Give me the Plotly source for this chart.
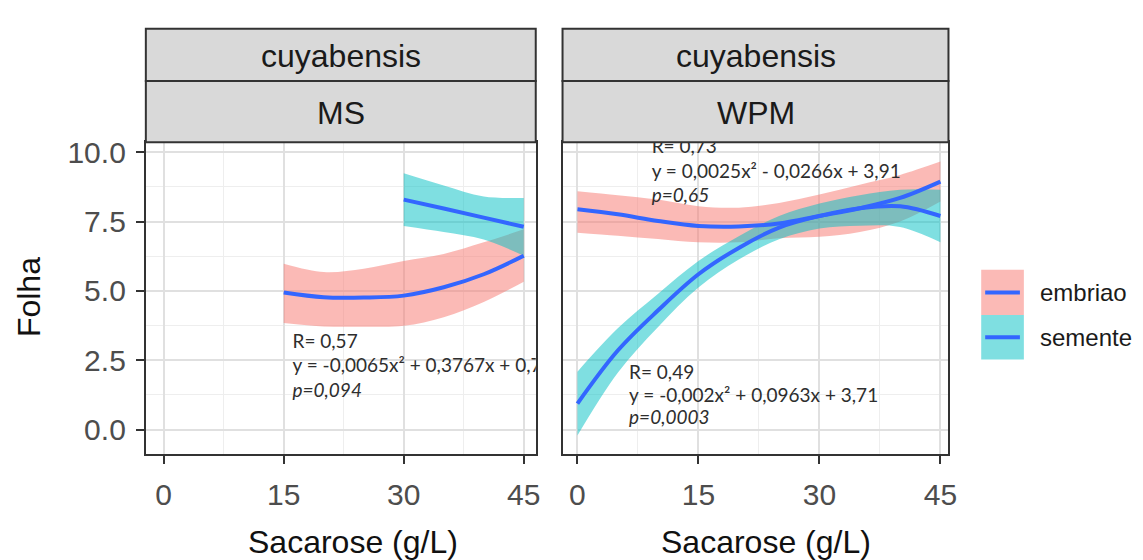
import plotly.graph_objects as go

# ---------------- data ----------------
panels = ["MS", "WPM"]
strip_top = "cuyabensis"
groups = ["embriao", "semente"]

# MS panel
ms_embriao_x = [15, 20, 25, 30, 35, 40, 45]
ms_embriao_y = [4.94, 4.77, 4.76, 4.83, 5.13, 5.60, 6.27]
ms_embriao_lo = [3.84, 3.72, 3.71, 3.74, 4.05, 4.60, 5.33]
ms_embriao_hi = [5.98, 5.68, 5.80, 6.08, 6.33, 6.75, 7.22]

ms_semente_x = [30, 35, 40, 45]
ms_semente_y = [8.29, 7.97, 7.64, 7.31]
ms_semente_lo = [7.34, 7.12, 6.85, 6.27]
ms_semente_hi = [9.24, 8.80, 8.40, 8.35]

# WPM panel
wpm_embriao_x = [0, 5, 10, 15, 20, 25, 30, 35, 40, 45]
wpm_embriao_y = [7.94, 7.76, 7.52, 7.34, 7.32, 7.43, 7.70, 7.98, 8.35, 8.94]
wpm_embriao_lo = [7.10, 6.99, 6.87, 6.75, 6.75, 6.90, 6.95, 7.12, 7.50, 8.22]
wpm_embriao_hi = [8.59, 8.45, 8.29, 8.05, 8.00, 8.17, 8.47, 8.83, 9.18, 9.66]

wpm_semente_x = [0, 5, 10, 15, 20, 25, 30, 35, 40, 45]
wpm_semente_y = [0.94, 2.85, 4.30, 5.60, 6.55, 7.28, 7.70, 7.98, 8.05, 7.70]
wpm_semente_lo = [-0.21, 2.05, 3.70, 5.12, 6.13, 6.86, 7.25, 7.35, 7.30, 6.75]
wpm_semente_hi = [2.09, 3.65, 4.90, 6.08, 6.97, 7.70, 8.15, 8.45, 8.65, 8.65]

x_ticks = [0, 15, 30, 45]
y_ticks = [0.0, 2.5, 5.0, 7.5, 10.0]

ann_ms = ["R= 0,57", "y = -0,0065x² + 0,3767x + 0,77", "<i>p=0,094</i>"]
ann_wpm_top = ["R= 0,73", "y = 0,0025x² - 0,0266x + 3,91", "<i>p=0,65</i>"]
ann_wpm_bot = ["R= 0,49", "y = -0,002x² + 0,0963x + 3,71", "<i>p=0,0003</i>"]

# ---------------- styling ----------------
W, H = 1143, 560
RIB = {"embriao": "rgba(248,118,109,0.5)", "semente": "rgba(0,191,196,0.5)"}
LINE = "#3366FF"
BORDER = "#333333"


def fx(p):
    return p / W


def fy(p):
    return 1 - p / H


fig = go.Figure()


def add_smooth(xs, ys, lo, hi, grp, xa, ya):
    fig.add_trace(go.Scatter(x=xs, y=hi, mode="lines", line=dict(width=0, shape="spline"),
                             xaxis=xa, yaxis=ya, showlegend=False, hoverinfo="skip"))
    fig.add_trace(go.Scatter(x=xs, y=lo, mode="lines", line=dict(width=0, shape="spline"),
                             fill="tonexty", fillcolor=RIB[grp],
                             xaxis=xa, yaxis=ya, showlegend=False, hoverinfo="skip"))


def add_line(xs, ys, grp, xa, ya):
    fig.add_trace(go.Scatter(x=xs, y=ys, mode="lines", line=dict(color=LINE, width=4, shape="spline"),
                             xaxis=xa, yaxis=ya, showlegend=False, name=grp))


add_smooth(ms_embriao_x, ms_embriao_y, ms_embriao_lo, ms_embriao_hi, "embriao", "x", "y")
add_smooth(ms_semente_x, ms_semente_y, ms_semente_lo, ms_semente_hi, "semente", "x", "y")
add_smooth(wpm_embriao_x, wpm_embriao_y, wpm_embriao_lo, wpm_embriao_hi, "embriao", "x2", "y2")
add_smooth(wpm_semente_x, wpm_semente_y, wpm_semente_lo, wpm_semente_hi, "semente", "x2", "y2")
add_line(ms_embriao_x, ms_embriao_y, "embriao", "x", "y")
add_line(ms_semente_x, ms_semente_y, "semente", "x", "y")
add_line(wpm_embriao_x, wpm_embriao_y, "embriao", "x2", "y2")
add_line(wpm_semente_x, wpm_semente_y, "semente", "x2", "y2")

# text blocks (clipped to panel like the reference)
TF = dict(family="Lato, Carlito, sans-serif", size=19, color="#2e2e2e")


def add_text(lines, x0, ys, xa, ya):
    fig.add_trace(go.Scatter(x=[x0] * len(lines), y=ys, mode="text", text=lines,
                             textposition="middle right", textfont=TF, cliponaxis=True,
                             xaxis=xa, yaxis=ya, showlegend=False, hoverinfo="skip"))


add_text(ann_ms, 16.1, [3.10, 2.24, 1.35], "x", "y")
add_text(ann_wpm_top, 9.2, [10.14, 9.25, 8.36], "x2", "y2")
add_text(ann_wpm_bot, 6.4, [1.99, 1.17, 0.36], "x2", "y2")

TICKFONT = dict(family="Liberation Sans, Arial, sans-serif", size=30, color="#4d4d4d")
common = dict(showline=True, mirror=True, linecolor=BORDER, linewidth=2,
              showgrid=True, gridcolor="#e0e0e0", gridwidth=1.5, zeroline=False,
              ticks="outside", ticklen=8, tickwidth=1.5, tickcolor=BORDER,
              tickfont=TICKFONT)

y_top_px, y_bot_px = 137, 453
ydom = [fy(y_bot_px), fy(y_top_px)]
yrange = [-0.89, 10.356]

MINOR_X = dict(dtick=7.5, tick0=0, showgrid=True, gridcolor="#eeeeee", gridwidth=1)
MINOR_Y = dict(dtick=1.25, tick0=0, showgrid=True, gridcolor="#eeeeee", gridwidth=1)

fig.update_layout(
    width=W, height=H, margin=dict(l=0, r=0, t=0, b=0),
    paper_bgcolor="white", plot_bgcolor="white", showlegend=False,
    xaxis=dict(domain=[fx(147), fx(540)], range=[-2.23, 46.5], tickvals=x_ticks,
               minor=MINOR_X, ticklabelstandoff=5, anchor="y", **common),
    xaxis2=dict(domain=[fx(567), fx(956)], range=[-1.85, 46.0], tickvals=x_ticks,
                minor=MINOR_X, ticklabelstandoff=5, anchor="y2", **common),
    yaxis=dict(domain=ydom, range=yrange, tickvals=y_ticks, tickformat=".1f",
               minor=MINOR_Y, ticklabelstandoff=4, anchor="x", **common),
    yaxis2=dict(domain=ydom, range=yrange, tickvals=y_ticks, showticklabels=False,
                minor=MINOR_Y, anchor="x2", **{**common, "ticks": ""}),
)

shapes = []
annotations = []
STRIPFONT = dict(family="Liberation Sans, Arial, sans-serif", size=32, color="#1a1a1a")
for name, (l, r) in zip(panels, [(147, 540), (567, 956)]):
    for (t, b, label) in [(22, 75, strip_top), (75, 137, name)]:
        shapes.append(dict(type="rect", xref="paper", yref="paper", x0=fx(l), x1=fx(r), y0=fy(b), y1=fy(t),
                           fillcolor="#d9d9d9", line=dict(color=BORDER, width=2), layer="above"))
        annotations.append(dict(xref="paper", yref="paper", x=fx((l + r) / 2), y=fy((t + b) / 2 + 1),
                                text=label, showarrow=False, font=STRIPFONT, xanchor="center", yanchor="middle"))

TITLEFONT = dict(family="Liberation Sans, Arial, sans-serif", size=32, color="#111111")
annotations.append(dict(xref="paper", yref="paper", x=fx(356), y=fy(542), text="Sacarose (g/L)",
                        showarrow=False, font=TITLEFONT, xanchor="center", yanchor="middle"))
annotations.append(dict(xref="paper", yref="paper", x=fx(772), y=fy(542), text="Sacarose (g/L)",
                        showarrow=False, font=TITLEFONT, xanchor="center", yanchor="middle"))
annotations.append(dict(xref="paper", yref="paper", x=fx(30), y=fy(294), text="Folha", textangle=-90,
                        showarrow=False, font=TITLEFONT, xanchor="center", yanchor="middle"))

# legend (drawn as in ggplot: filled key with blue line)
LEGFONT = dict(family="Liberation Sans, Arial, sans-serif", size=24, color="#1a1a1a")
for grp, (t, b) in zip(groups, [(266, 312), (312, 357)]):
    shapes.append(dict(type="rect", xref="paper", yref="paper", x0=fx(989), x1=fx(1032), y0=fy(b), y1=fy(t),
                       fillcolor=RIB[grp], line=dict(width=0), layer="above"))
    shapes.append(dict(type="line", xref="paper", yref="paper", x0=fx(993), x1=fx(1028),
                       y0=fy((t + b) / 2), y1=fy((t + b) / 2), line=dict(color=LINE, width=4), layer="above"))
    annotations.append(dict(xref="paper", yref="paper", x=fx(1046), y=fy((t + b) / 2), text=grp,
                            showarrow=False, font=LEGFONT, xanchor="left", yanchor="middle"))

fig.update_layout(shapes=shapes, annotations=annotations)
fig.write_html("out.html")
